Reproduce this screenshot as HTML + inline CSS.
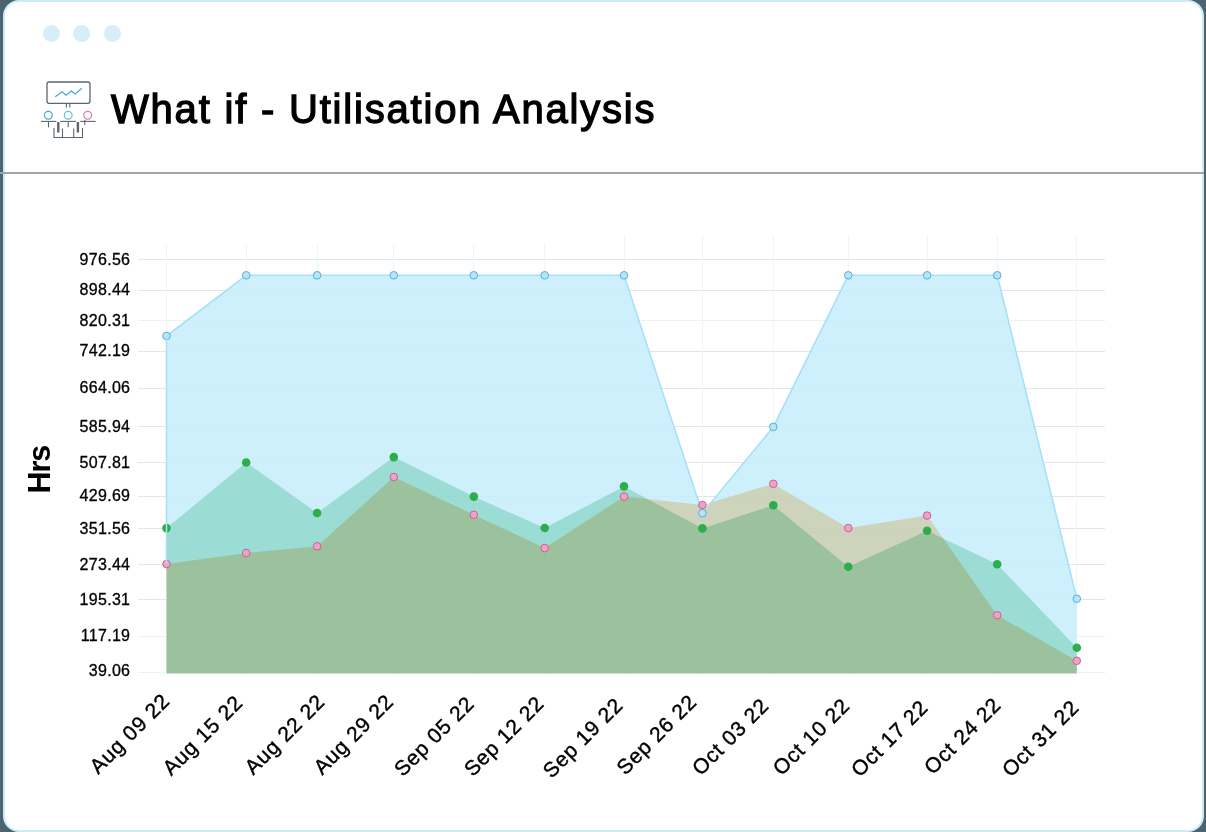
<!DOCTYPE html>
<html><head><meta charset="utf-8"><style>
html,body{margin:0;padding:0;}
body{width:1206px;height:832px;position:relative;overflow:hidden;background:#4b646e;font-family:"Liberation Sans",sans-serif;}
.card{position:absolute;left:3px;top:0;width:1197px;height:828px;border:2px solid #c8ebfa;border-radius:16px;background:#fff;}
.dot{position:absolute;top:25px;width:17px;height:17px;border-radius:50%;background:#d6eef8;}
.title{position:absolute;left:111px;top:86.5px;font-size:40px;color:#000;-webkit-text-stroke:1.3px #000;white-space:nowrap;letter-spacing:1.8px;}
.sep{position:absolute;left:0;top:172px;width:1204px;height:2px;background:#a3a3a3;}
svg text{font-family:"Liberation Sans",sans-serif;}
</style></head><body>
<div class="card"></div>
<div class="dot" style="left:43px"></div>
<div class="dot" style="left:73px"></div>
<div class="dot" style="left:104px"></div>

<svg width="64" height="64" viewBox="36 76 64 64" style="position:absolute;left:36px;top:76px">
<rect x="47" y="82" width="43" height="21.3" rx="2" fill="none" stroke="#5d6670" stroke-width="1.3"/>
<polyline points="55.2,96.8 62.2,91.8 66,95.2 71.4,91 75.2,94 81.8,88.3" fill="none" stroke="#3ea8d8" stroke-width="1.2"/>
<line x1="66.4" y1="103.3" x2="66.4" y2="107.5" stroke="#5d6670" stroke-width="1.1"/>
<line x1="69.8" y1="103.3" x2="69.8" y2="107.5" stroke="#5d6670" stroke-width="1.1"/>
<circle cx="48.3" cy="115.2" r="3.9" fill="none" stroke="#3ea8d8" stroke-width="1.2"/>
<circle cx="68.2" cy="115.2" r="3.9" fill="none" stroke="#5ec8d0" stroke-width="1.2"/>
<circle cx="87.7" cy="115.2" r="3.9" fill="none" stroke="#e07aa8" stroke-width="1.2"/>
<line x1="41" y1="121.4" x2="56.4" y2="121.4" stroke="#5d6670" stroke-width="1.1"/>
<line x1="60.2" y1="121.4" x2="76" y2="121.4" stroke="#5d6670" stroke-width="1.1"/>
<line x1="80.2" y1="121.4" x2="95.6" y2="121.4" stroke="#5d6670" stroke-width="1.1"/>
<line x1="48.5" y1="121.4" x2="48.5" y2="127.3" stroke="#5d6670" stroke-width="1.1"/>
<line x1="68.2" y1="121.4" x2="68.2" y2="127.3" stroke="#5d6670" stroke-width="1.1"/>
<line x1="84.8" y1="120" x2="84.8" y2="125" stroke="#5d6670" stroke-width="1.1"/>
<line x1="58.3" y1="122" x2="58.3" y2="132.5" stroke="#5d6670" stroke-width="2.4"/>
<line x1="77.9" y1="122" x2="77.9" y2="132.5" stroke="#5d6670" stroke-width="2.4"/>
<polyline points="54,128 54,137.5 82.5,137.5 82.5,128" fill="none" stroke="#5d6670" stroke-width="1.1"/>
<line x1="62.5" y1="128.5" x2="62.5" y2="137.5" stroke="#5d6670" stroke-width="1.1"/>
<line x1="73.7" y1="128.5" x2="73.7" y2="137.5" stroke="#5d6670" stroke-width="1.1"/>
</svg>
<div class="title">What if - Utilisation Analysis</div>
<div class="sep"></div>
<svg width="1206" height="832" style="position:absolute;left:0;top:0">
<line x1="138" y1="259.5" x2="1105" y2="259.5" stroke="#e4e6e6" stroke-width="1"/>
<line x1="138" y1="290.5" x2="1105" y2="290.5" stroke="#e4e6e6" stroke-width="1"/>
<line x1="138" y1="320.5" x2="1105" y2="320.5" stroke="#ebeded" stroke-width="1" stroke-dasharray="3 1"/>
<line x1="138" y1="351.5" x2="1105" y2="351.5" stroke="#e4e6e6" stroke-width="1"/>
<line x1="138" y1="388.5" x2="1105" y2="388.5" stroke="#e4e6e6" stroke-width="1"/>
<line x1="138" y1="426.5" x2="1105" y2="426.5" stroke="#e4e6e6" stroke-width="1"/>
<line x1="138" y1="462.5" x2="1105" y2="462.5" stroke="#e4e6e6" stroke-width="1"/>
<line x1="138" y1="496.5" x2="1105" y2="496.5" stroke="#e4e6e6" stroke-width="1"/>
<line x1="138" y1="528.5" x2="1105" y2="528.5" stroke="#e4e6e6" stroke-width="1"/>
<line x1="138" y1="564.5" x2="1105" y2="564.5" stroke="#e4e6e6" stroke-width="1"/>
<line x1="138" y1="599.5" x2="1105" y2="599.5" stroke="#e4e6e6" stroke-width="1"/>
<line x1="138" y1="636.5" x2="1105" y2="636.5" stroke="#ebeded" stroke-width="1" stroke-dasharray="3 1"/>
<line x1="138" y1="672.5" x2="1105" y2="672.5" stroke="#ebeded" stroke-width="1" stroke-dasharray="3 1"/>
<line x1="166.5" y1="244" x2="166.5" y2="673.6" stroke="#eff4f4" stroke-width="1"/>
<line x1="246.5" y1="244" x2="246.5" y2="673.6" stroke="#eff4f4" stroke-width="1"/>
<line x1="317.5" y1="244" x2="317.5" y2="673.6" stroke="#eff4f4" stroke-width="1"/>
<line x1="393.5" y1="244" x2="393.5" y2="673.6" stroke="#eff4f4" stroke-width="1"/>
<line x1="473.5" y1="244" x2="473.5" y2="673.6" stroke="#eff4f4" stroke-width="1"/>
<line x1="544.5" y1="244" x2="544.5" y2="673.6" stroke="#eff4f4" stroke-width="1"/>
<line x1="624.5" y1="235" x2="624.5" y2="673.6" stroke="#eff4f4" stroke-width="1"/>
<line x1="702.5" y1="235" x2="702.5" y2="673.6" stroke="#eff4f4" stroke-width="1"/>
<line x1="773.5" y1="235" x2="773.5" y2="673.6" stroke="#eff4f4" stroke-width="1"/>
<line x1="848.5" y1="235" x2="848.5" y2="673.6" stroke="#eff4f4" stroke-width="1"/>
<line x1="927.5" y1="235" x2="927.5" y2="673.6" stroke="#eff4f4" stroke-width="1"/>
<line x1="997.5" y1="235" x2="997.5" y2="673.6" stroke="#eff4f4" stroke-width="1"/>
<line x1="1076.5" y1="235" x2="1076.5" y2="673.6" stroke="#eff4f4" stroke-width="1"/>
<polygon points="166.5,673.6 166.5,336 246.2,275.3 317.1,275.3 393.8,275.3 473.8,275.3 544.7,275.3 624,275.3 702.4,513.2 773.3,426.9 848.3,275.3 927.1,275.3 997.2,275.3 1076.8,598.8 1076.8,673.6" fill="rgb(197,237,251)" fill-opacity="0.85"/>
<polygon points="166.5,673.6 166.5,528.1 246.2,462.5 317.1,513 393.8,457.1 473.8,496.6 544.7,528 624,486.4 702.4,528.4 773.3,505.2 848.3,566.7 927.1,530.7 997.2,564.3 1076.8,647.8 1076.8,673.6" fill="#c0ead7" style="mix-blend-mode:multiply"/>
<polygon points="166.5,673.6 166.5,564.1 246.2,553 317.1,546.3 393.8,477 473.8,514.8 544.7,548.1 624,496.6 702.4,505 773.3,483.8 848.3,528.1 927.1,515.6 997.2,615.3 1076.8,660.8 1076.8,673.6" fill="#ffe1bd" style="mix-blend-mode:multiply"/>
<polyline points="166.5,336 246.2,275.3 317.1,275.3 393.8,275.3 473.8,275.3 544.7,275.3 624,275.3 702.4,513.2 773.3,426.9 848.3,275.3 927.1,275.3 997.2,275.3 1076.8,598.8" fill="none" stroke="#a8e0f8" stroke-width="1.6" stroke-linejoin="round"/>
<circle cx="166.5" cy="528.1" r="4.3" fill="#2dae4b"/>
<circle cx="246.2" cy="462.5" r="4.3" fill="#2dae4b"/>
<circle cx="317.1" cy="513" r="4.3" fill="#2dae4b"/>
<circle cx="393.8" cy="457.1" r="4.3" fill="#2dae4b"/>
<circle cx="473.8" cy="496.6" r="4.3" fill="#2dae4b"/>
<circle cx="544.7" cy="528" r="4.3" fill="#2dae4b"/>
<circle cx="624" cy="486.4" r="4.3" fill="#2dae4b"/>
<circle cx="702.4" cy="528.4" r="4.3" fill="#2dae4b"/>
<circle cx="773.3" cy="505.2" r="4.3" fill="#2dae4b"/>
<circle cx="848.3" cy="566.7" r="4.3" fill="#2dae4b"/>
<circle cx="927.1" cy="530.7" r="4.3" fill="#2dae4b"/>
<circle cx="997.2" cy="564.3" r="4.3" fill="#2dae4b"/>
<circle cx="1076.8" cy="647.8" r="4.3" fill="#2dae4b"/>
<circle cx="166.5" cy="564.1" r="3.8" fill="#e8a5c8" stroke="#d85c90" stroke-width="1"/>
<circle cx="246.2" cy="553" r="3.8" fill="#e8a5c8" stroke="#d85c90" stroke-width="1"/>
<circle cx="317.1" cy="546.3" r="3.8" fill="#e8a5c8" stroke="#d85c90" stroke-width="1"/>
<circle cx="393.8" cy="477" r="3.8" fill="#e8a5c8" stroke="#d85c90" stroke-width="1"/>
<circle cx="473.8" cy="514.8" r="3.8" fill="#e8a5c8" stroke="#d85c90" stroke-width="1"/>
<circle cx="544.7" cy="548.1" r="3.8" fill="#e8a5c8" stroke="#d85c90" stroke-width="1"/>
<circle cx="624" cy="496.6" r="3.8" fill="#e8a5c8" stroke="#d85c90" stroke-width="1"/>
<circle cx="702.4" cy="505" r="3.8" fill="#e8a5c8" stroke="#d85c90" stroke-width="1"/>
<circle cx="773.3" cy="483.8" r="3.8" fill="#e8a5c8" stroke="#d85c90" stroke-width="1"/>
<circle cx="848.3" cy="528.1" r="3.8" fill="#e8a5c8" stroke="#d85c90" stroke-width="1"/>
<circle cx="927.1" cy="515.6" r="3.8" fill="#e8a5c8" stroke="#d85c90" stroke-width="1"/>
<circle cx="997.2" cy="615.3" r="3.8" fill="#e8a5c8" stroke="#d85c90" stroke-width="1"/>
<circle cx="1076.8" cy="660.8" r="3.8" fill="#e8a5c8" stroke="#d85c90" stroke-width="1"/>
<circle cx="166.5" cy="336" r="3.8" fill="#b4e6fa" stroke="#5aaed8" stroke-width="1"/>
<circle cx="246.2" cy="275.3" r="3.8" fill="#b4e6fa" stroke="#5aaed8" stroke-width="1"/>
<circle cx="317.1" cy="275.3" r="3.8" fill="#b4e6fa" stroke="#5aaed8" stroke-width="1"/>
<circle cx="393.8" cy="275.3" r="3.8" fill="#b4e6fa" stroke="#5aaed8" stroke-width="1"/>
<circle cx="473.8" cy="275.3" r="3.8" fill="#b4e6fa" stroke="#5aaed8" stroke-width="1"/>
<circle cx="544.7" cy="275.3" r="3.8" fill="#b4e6fa" stroke="#5aaed8" stroke-width="1"/>
<circle cx="624" cy="275.3" r="3.8" fill="#b4e6fa" stroke="#5aaed8" stroke-width="1"/>
<circle cx="702.4" cy="513.2" r="3.8" fill="#b4e6fa" stroke="#5aaed8" stroke-width="1"/>
<circle cx="773.3" cy="426.9" r="3.8" fill="#b4e6fa" stroke="#5aaed8" stroke-width="1"/>
<circle cx="848.3" cy="275.3" r="3.8" fill="#b4e6fa" stroke="#5aaed8" stroke-width="1"/>
<circle cx="927.1" cy="275.3" r="3.8" fill="#b4e6fa" stroke="#5aaed8" stroke-width="1"/>
<circle cx="997.2" cy="275.3" r="3.8" fill="#b4e6fa" stroke="#5aaed8" stroke-width="1"/>
<circle cx="1076.8" cy="598.8" r="3.8" fill="#b4e6fa" stroke="#5aaed8" stroke-width="1"/>
<line x1="166.5" y1="336" x2="166.5" y2="564.1" stroke="#a8e0f8" stroke-width="1.6"/>
<text x="130.3" y="264.55" text-anchor="end" font-size="16" fill="#000" stroke="#000" stroke-width="0.3" letter-spacing="0.3">976.56</text>
<text x="130.3" y="295.45" text-anchor="end" font-size="16" fill="#000" stroke="#000" stroke-width="0.3" letter-spacing="0.3">898.44</text>
<text x="130.3" y="325.55" text-anchor="end" font-size="16" fill="#000" stroke="#000" stroke-width="0.3" letter-spacing="0.3">820.31</text>
<text x="130.3" y="356.35" text-anchor="end" font-size="16" fill="#000" stroke="#000" stroke-width="0.3" letter-spacing="0.3">742.19</text>
<text x="130.3" y="393.25" text-anchor="end" font-size="16" fill="#000" stroke="#000" stroke-width="0.3" letter-spacing="0.3">664.06</text>
<text x="130.3" y="431.65" text-anchor="end" font-size="16" fill="#000" stroke="#000" stroke-width="0.3" letter-spacing="0.3">585.94</text>
<text x="130.3" y="467.55" text-anchor="end" font-size="16" fill="#000" stroke="#000" stroke-width="0.3" letter-spacing="0.3">507.81</text>
<text x="130.3" y="501.45" text-anchor="end" font-size="16" fill="#000" stroke="#000" stroke-width="0.3" letter-spacing="0.3">429.69</text>
<text x="130.3" y="533.65" text-anchor="end" font-size="16" fill="#000" stroke="#000" stroke-width="0.3" letter-spacing="0.3">351.56</text>
<text x="130.3" y="569.85" text-anchor="end" font-size="16" fill="#000" stroke="#000" stroke-width="0.3" letter-spacing="0.3">273.44</text>
<text x="130.3" y="604.55" text-anchor="end" font-size="16" fill="#000" stroke="#000" stroke-width="0.3" letter-spacing="0.3">195.31</text>
<text x="130.3" y="641.05" text-anchor="end" font-size="16" fill="#000" stroke="#000" stroke-width="0.3" letter-spacing="0.3">117.19</text>
<text x="130.3" y="675.55" text-anchor="end" font-size="16" fill="#000" stroke="#000" stroke-width="0.3" letter-spacing="0.3">39.06</text>
<text x="129.40" y="733.25" text-anchor="middle" dominant-baseline="central" font-size="21" letter-spacing="0.8" fill="#000" stroke="#000" stroke-width="0.4" transform="rotate(-45 129.40 733.25)">Aug 09 22</text>
<text x="202.35" y="734.90" text-anchor="middle" dominant-baseline="central" font-size="21" letter-spacing="0.8" fill="#000" stroke="#000" stroke-width="0.4" transform="rotate(-45 202.35 734.90)">Aug 15 22</text>
<text x="284.45" y="734.10" text-anchor="middle" dominant-baseline="central" font-size="21" letter-spacing="0.8" fill="#000" stroke="#000" stroke-width="0.4" transform="rotate(-45 284.45 734.10)">Aug 22 22</text>
<text x="353.25" y="734.00" text-anchor="middle" dominant-baseline="central" font-size="21" letter-spacing="0.8" fill="#000" stroke="#000" stroke-width="0.4" transform="rotate(-45 353.25 734.00)">Aug 29 22</text>
<text x="433.85" y="735.90" text-anchor="middle" dominant-baseline="central" font-size="21" letter-spacing="0.8" fill="#000" stroke="#000" stroke-width="0.4" transform="rotate(-45 433.85 735.90)">Sep 05 22</text>
<text x="503.75" y="735.85" text-anchor="middle" dominant-baseline="central" font-size="21" letter-spacing="0.8" fill="#000" stroke="#000" stroke-width="0.4" transform="rotate(-45 503.75 735.85)">Sep 12 22</text>
<text x="582.55" y="737.55" text-anchor="middle" dominant-baseline="central" font-size="21" letter-spacing="0.8" fill="#000" stroke="#000" stroke-width="0.4" transform="rotate(-45 582.55 737.55)">Sep 19 22</text>
<text x="656.30" y="734.25" text-anchor="middle" dominant-baseline="central" font-size="21" letter-spacing="0.8" fill="#000" stroke="#000" stroke-width="0.4" transform="rotate(-45 656.30 734.25)">Sep 26 22</text>
<text x="730.15" y="736.35" text-anchor="middle" dominant-baseline="central" font-size="21" letter-spacing="0.8" fill="#000" stroke="#000" stroke-width="0.4" transform="rotate(-45 730.15 736.35)">Oct 03 22</text>
<text x="811.05" y="736.35" text-anchor="middle" dominant-baseline="central" font-size="21" letter-spacing="0.8" fill="#000" stroke="#000" stroke-width="0.4" transform="rotate(-45 811.05 736.35)">Oct 10 22</text>
<text x="889.30" y="738.05" text-anchor="middle" dominant-baseline="central" font-size="21" letter-spacing="0.8" fill="#000" stroke="#000" stroke-width="0.4" transform="rotate(-45 889.30 738.05)">Oct 17 22</text>
<text x="962.25" y="735.55" text-anchor="middle" dominant-baseline="central" font-size="21" letter-spacing="0.8" fill="#000" stroke="#000" stroke-width="0.4" transform="rotate(-45 962.25 735.55)">Oct 24 22</text>
<text x="1040.20" y="738.05" text-anchor="middle" dominant-baseline="central" font-size="21" letter-spacing="0.8" fill="#000" stroke="#000" stroke-width="0.4" transform="rotate(-45 1040.20 738.05)">Oct 31 22</text>
<text x="50" y="469.7" text-anchor="middle" font-size="30.5" letter-spacing="-1.1" font-weight="bold" fill="#000" transform="rotate(-90 50 469.7)">Hrs</text>
</svg>
</body></html>
